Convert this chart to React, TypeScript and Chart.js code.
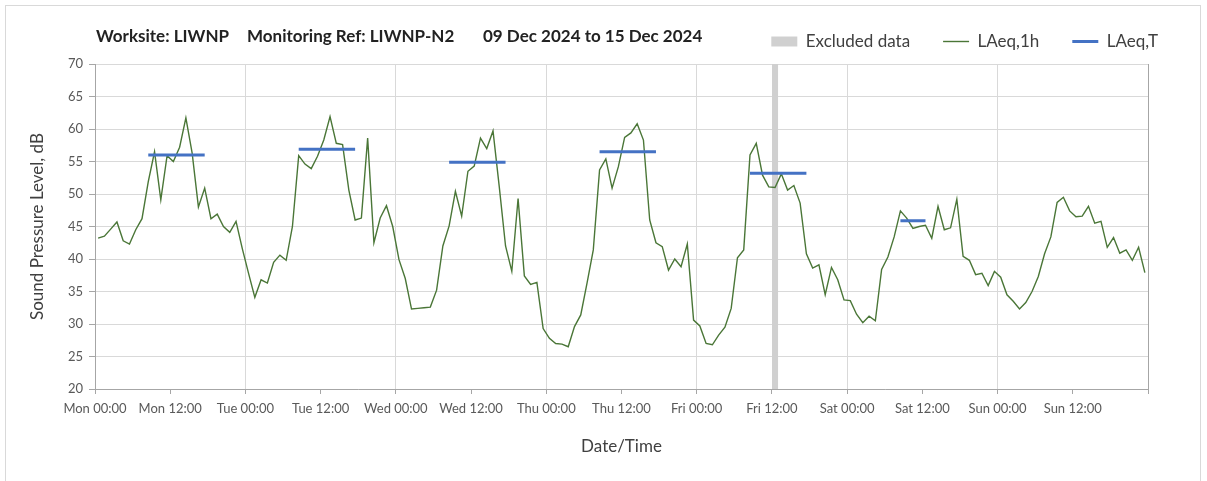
import React, { useEffect, useRef } from 'react';
import { Chart, registerables } from 'chart.js';

Chart.register(...registerables);

// ---- Data (hourly LAeq,1h values, dB) ----
const monLAeq1h = [43.2, 43.5, 44.6, 45.7, 42.8, 42.3, 44.5, 46.2, 51.9, 56.5, 49.1, 55.9, 55.0, 57.2, 61.7, 56.3, 48.0, 50.9, 46.2, 46.9, 45.0, 44.1, 45.8, 41.6];
const tueLAeq1h = [37.8, 34.1, 36.8, 36.3, 39.5, 40.6, 39.8, 45.0, 55.9, 54.6, 53.9, 55.8, 58.3, 61.9, 57.8, 57.6, 50.6, 46.0, 46.3, 58.6, 42.5, 46.3, 48.2, 45.0];
const wedLAeq1h = [39.9, 37.0, 32.3, 32.4, 32.5, 32.6, 35.2, 42.0, 45.1, 50.4, 46.6, 53.5, 54.3, 58.6, 57.0, 59.7, 51.1, 42.0, 38.1, 49.3, 37.4, 36.1, 36.4, 29.3];
const thuLAeq1h = [27.8, 27.0, 26.9, 26.5, 29.6, 31.4, 36.3, 41.4, 53.7, 55.4, 50.9, 54.2, 58.7, 59.4, 60.8, 58.3, 46.0, 42.5, 41.9, 38.3, 40.0, 38.8, 42.3, 30.6];
const friLAeq1h = [29.7, 27.0, 26.8, 28.3, 29.5, 32.4, 40.2, 41.4, 56.0, 57.8, 52.9, 51.1, 51.0, 53.1, 50.6, 51.3, 48.6, 40.8, 38.6, 39.1, 34.5, 38.7, 36.8, 33.7];
const satLAeq1h = [33.6, 31.5, 30.2, 31.2, 30.5, 38.4, 40.3, 43.4, 47.4, 46.3, 44.7, 45.0, 45.2, 43.2, 48.1, 44.5, 44.8, 49.2, 40.4, 39.8, 37.6, 37.8, 35.9, 38.1];
const sunLAeq1h = [37.2, 34.5, 33.5, 32.3, 33.3, 35.0, 37.3, 40.8, 43.4, 48.7, 49.5, 47.4, 46.5, 46.6, 48.1, 45.5, 45.8, 41.8, 43.3, 40.9, 41.4, 39.8, 41.8, 37.9];

// LAeq,T over the working period of each day
const laeqTDay = [0, 1, 2, 3, 4, 5];
const laeqTValues = [56.0, 56.9, 54.9, 56.5, 53.2, 45.9];
const laeqTStartHour = [8, 8, 8, 8, 8, 8];
const laeqTEndHour = [18, 18, 18, 18, 18, 13];

// Excluded data period (hours from Mon 00:00)
const excludedStart = [108];
const excludedEnd = [109];

const xTickLabels = [
  'Mon 00:00', 'Mon 12:00', 'Tue 00:00', 'Tue 12:00', 'Wed 00:00', 'Wed 12:00', 'Thu 00:00',
  'Thu 12:00', 'Fri 00:00', 'Fri 12:00', 'Sat 00:00', 'Sat 12:00', 'Sun 00:00', 'Sun 12:00', '',
];
const xMin = 0;
const xMax = 168;
const xStep = 12;
const yMin = 20;
const yMax = 70;
const yStep = 5;

const FONT = 'Lato, "Open Sans", "DejaVu Sans", sans-serif';
const GREEN = '#4a7637';
const BLUE = '#4472c4';
const BAND = '#d0d0d0';
const GRID = '#d9d9d9';
const AXIS = '#a6a6a6';

export default function App() {
  const canvasRef = useRef<HTMLCanvasElement>(null);

  useEffect(() => {
    const laeq1h = [
      ...monLAeq1h, ...tueLAeq1h, ...wedLAeq1h, ...thuLAeq1h,
      ...friLAeq1h, ...satLAeq1h, ...sunLAeq1h,
    ];
    const hourlyPoints = laeq1h.map((y, i) => ({ x: i + 0.5, y }));
    const tPoints: { x: number; y: number | null }[] = [];
    laeqTValues.forEach((v, i) => {
      const base = laeqTDay[i] * 24;
      tPoints.push({ x: base + laeqTStartHour[i] + 0.5, y: v });
      tPoints.push({ x: base + laeqTEndHour[i] - 0.5, y: v });
      tPoints.push({ x: base + laeqTEndHour[i], y: null });
    });
    const bandPoints = excludedStart.flatMap((s, i) => [
      { x: s, y: yMax },
      { x: excludedEnd[i], y: yMax },
    ]);

    Chart.defaults.font.family = FONT;

    const chart = new Chart(canvasRef.current as HTMLCanvasElement, {
      type: 'line',
      data: {
        datasets: [
          {
            label: 'Excluded data',
            data: bandPoints,
            fill: 'start',
            backgroundColor: BAND,
            borderColor: BAND,
            borderWidth: 0,
            pointRadius: 0,
            pointStyle: 'rect',
            order: 3,
          },
          {
            label: 'LAeq,1h',
            data: hourlyPoints,
            borderColor: GREEN,
            backgroundColor: GREEN,
            borderWidth: 1.4,
            pointRadius: 0,
            pointStyle: 'line',
            fill: false,
            tension: 0,
            order: 2,
          },
          {
            label: 'LAeq,T',
            data: tPoints,
            borderColor: BLUE,
            backgroundColor: BLUE,
            borderWidth: 3,
            pointRadius: 0,
            pointStyle: 'line',
            fill: false,
            spanGaps: false,
            order: 1,
          },
        ],
      } as any,
      options: {
        responsive: false,
        animation: false,
        layout: { padding: { top: 0, left: 0, right: 16, bottom: 0 } },
        plugins: {
          tooltip: { enabled: false },
          title: { display: false },
          legend: {
            display: true,
            position: 'top',
            align: 'end',
            labels: {
              usePointStyle: true,
              pointStyleWidth: 26,
              boxWidth: 26,
              boxHeight: 10,
              padding: 33,
              color: '#404040',
              font: { size: 17, family: FONT },
              sort: (a: any, b: any) => a.datasetIndex - b.datasetIndex,
            },
          },
        },
        scales: {
          x: {
            type: 'linear',
            min: xMin,
            max: xMax,
            ticks: {
              stepSize: xStep,
              autoSkip: false,
              maxRotation: 0,
              padding: 7,
              color: '#595959',
              font: { size: 13, family: FONT },
              callback: (v: any) => xTickLabels[Math.round(Number(v) / xStep)] ?? '',
            },
            grid: {
              color: (ctx: any) => {
                const v = ctx.tick ? ctx.tick.value : 0;
                if (v === xMax) return AXIS;
                return v % 24 === 0 ? GRID : 'rgba(0,0,0,0)';
              },
              tickColor: AXIS,
              tickLength: 5,
              lineWidth: 1,
            },
            border: { color: AXIS, width: 1 },
            title: {
              display: true,
              text: 'Date/Time',
              color: '#404040',
              font: { size: 17, family: FONT },
              padding: { top: 0, bottom: 24 },
            },
            afterFit: (s: any) => {
              s.height = 92;
              s.paddingRight = 59;
            },
          },
          xSpacer: {
            type: 'linear',
            axis: 'x',
            position: 'top',
            min: xMin,
            max: xMax,
            display: true,
            grid: { display: false, drawTicks: false },
            border: { display: false },
            ticks: { display: false },
            afterFit: (s: any) => {
              s.height = 4;
            },
          },
          y: {
            type: 'linear',
            min: yMin,
            max: yMax,
            ticks: {
              stepSize: yStep,
              padding: 6,
              color: '#595959',
              font: { size: 13, family: FONT },
            },
            grid: { color: GRID, tickColor: AXIS, tickLength: 6, lineWidth: 1 },
            border: { color: AXIS, width: 1 },
            title: {
              display: true,
              text: 'Sound Pressure Level, dB',
              color: '#404040',
              font: { size: 17, family: FONT },
              padding: { top: 27, bottom: 0 },
            },
            afterFit: (s: any) => {
              s.width = 95;
            },
          },
        },
      } as any,
    });
    return () => chart.destroy();
  }, []);

  const titleStyle: React.CSSProperties = {
    position: 'absolute',
    top: 26,
    fontFamily: FONT,
    fontWeight: 700,
    fontSize: 17,
    lineHeight: '20px',
    color: '#222',
    whiteSpace: 'nowrap',
  };

  return (
    <div
      style={{
        position: 'fixed',
        left: 0,
        top: 0,
        width: 1207,
        height: 481,
        overflow: 'hidden',
        background: '#fff',
      }}
    >
      <div
        style={{
          position: 'absolute',
          left: 5,
          top: 5,
          width: 1196,
          height: 500,
          border: '1px solid #d9d9d9',
          boxSizing: 'border-box',
        }}
      />
      <canvas
        ref={canvasRef}
        width={1207}
        height={481}
        style={{ position: 'absolute', left: 0, top: 0, width: 1207, height: 481 }}
      />
      <div style={{ ...titleStyle, left: 96 }}>Worksite: LIWNP</div>
      <div style={{ ...titleStyle, left: 247 }}>Monitoring Ref: LIWNP-N2</div>
      <div style={{ ...titleStyle, left: 483 }}>09 Dec 2024 to 15 Dec 2024</div>
    </div>
  );
}
